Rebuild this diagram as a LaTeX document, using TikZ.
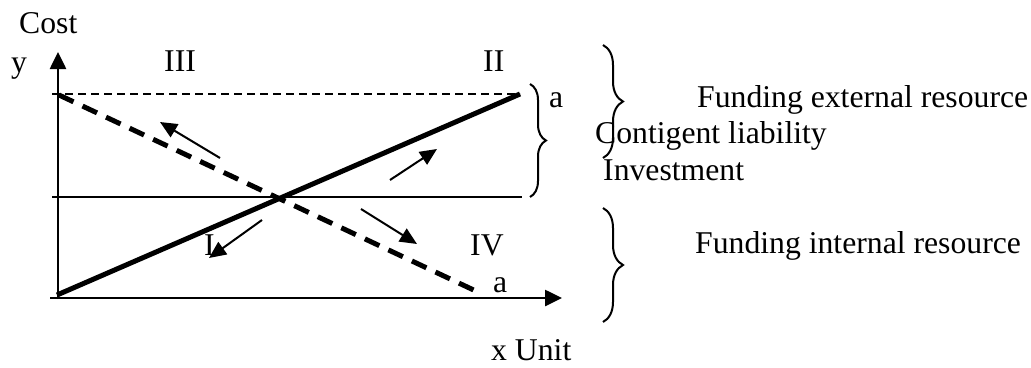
\documentclass[tikz,border=0pt]{standalone}
\usepackage{fontspec}
\setmainfont{Liberation Serif}
\usetikzlibrary{arrows.meta,decorations.pathreplacing}
\begin{document}
\begin{tikzpicture}[x=1pt,y=-1pt,
  lbl/.style={anchor=base west,inner sep=0pt,font=\fontsize{31.7}{38}\selectfont},
  axis/.style={line width=2.6pt,-{Triangle[length=17pt,width=16pt]}},
  thinline/.style={line width=2pt},
  thindash/.style={line width=2pt,dash pattern=on 8pt off 5pt},
  thickline/.style={line width=5pt},
  thickdash/.style={line width=5pt,dash pattern=on 16pt off 10pt},
  movearrow/.style={line width=2pt,-{Triangle[length=17pt,width=15pt]}},
  bracebig/.style={line width=2pt,decorate,decoration={brace,amplitude=20pt,aspect=0.5}},
  bracesmall/.style={line width=2pt,decorate,decoration={brace,amplitude=16pt,aspect=0.5}}
]
\useasboundingbox (0,0) rectangle (1031,367);
% key points
\coordinate (O) at (57,297);
\coordinate (xstart) at (50,298);
\coordinate (xend) at (562,298);
\coordinate (ystart) at (58,299);
\coordinate (yend) at (58,52);
\coordinate (topL) at (52,94);
\coordinate (topR) at (520,94);
\coordinate (midL) at (52,197);
\coordinate (midR) at (522,197);
\coordinate (solidA) at (57,295);
\coordinate (solidB) at (520,94);
\coordinate (dashA) at (59,95);
\coordinate (dashB) at (480,293);
% axes
\draw[axis] (xstart) -- (xend);
\draw[axis] (ystart) -- (yend);
% horizontal lines
\draw[thindash] (topL) -- (topR);
\draw[thinline] (midL) -- (midR);
% cost lines
\draw[thickline] (solidA) -- (solidB);
\draw[thickdash] (dashA) -- (dashB);
% movement arrows
\coordinate (nwS) at (220,158); \coordinate (nwE) at (160,122);
\coordinate (neS) at (390,180); \coordinate (neE) at (437,149);
\coordinate (seS) at (361,209); \coordinate (seE) at (417,244);
\coordinate (swS) at (262,220); \coordinate (swE) at (209,258);
\draw[movearrow] (nwS) -- (nwE);
\draw[movearrow] (neS) -- (neE);
\draw[movearrow] (seS) -- (seE);
\draw[movearrow] (swS) -- (swE);
% braces
\coordinate (b1t) at (530,84); \coordinate (b1b) at (530,197);
\coordinate (b2t) at (603,45); \coordinate (b2b) at (603,158);
\coordinate (b3t) at (603,208); \coordinate (b3b) at (603,322);
\draw[bracesmall] (b1t) -- (b1b);
\draw[bracebig] (b2t) -- (b2b);
\draw[bracebig] (b3t) -- (b3b);
% labels
\node[lbl] (cost) at (19,33) {Cost};
\node[lbl] (ylab) at (11,72) {y};
\node[lbl] (q3) at (164,71) {III};
\node[lbl] (q2) at (483,71) {II};
\node[lbl] (q1) at (204,255) {I};
\node[lbl] (q4) at (470,255) {IV};
\node[lbl] (atop) at (549,107) {a};
\node[lbl] (abot) at (493,292) {a};
\node[lbl] (xlab) at (491,360) {x Unit};
\node[lbl] (fext) at (697,107) {Funding external resource};
\node[lbl] (cont) at (595,143) {Contigent liability};
\node[lbl] (inv) at (603,180) {Investment};
\node[lbl] (fint) at (695,253) {Funding internal resource};
\end{tikzpicture}
\end{document}
